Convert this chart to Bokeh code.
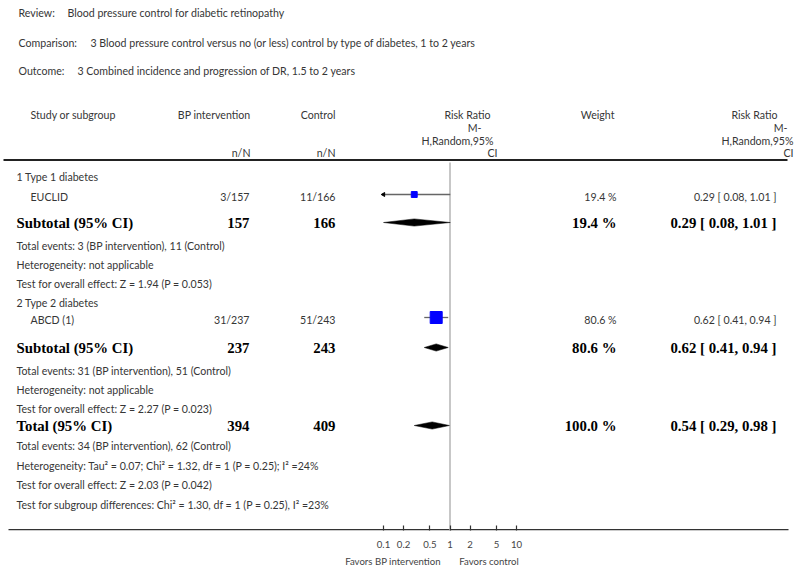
import math
from bokeh.plotting import figure
from bokeh.models import Range1d, LogScale, LogAxis, FixedTicker, ColumnDataSource
from bokeh.core.properties import value
from bokeh.embed import file_html
from bokeh.resources import INLINE

# ---------------- data ----------------
review = "Blood pressure control for diabetic retinopathy"
comparison = "3 Blood pressure control versus no (or less) control by type of diabetes, 1 to 2 years"
outcome = "3 Combined incidence and progression of DR, 1.5 to 2 years"

group_names = ["1 Type 1 diabetes", "2 Type 2 diabetes"]
study_names = ["EUCLID", "ABCD (1)"]
bp_events = [3, 31]
bp_totals = [157, 237]
ctl_events = [11, 51]
ctl_totals = [166, 243]
study_weights = [19.4, 80.6]
study_rr = [0.29, 0.62]
study_lo = [0.08, 0.41]
study_hi = [1.01, 0.94]

sub_weights = [19.4, 80.6]
sub_rr = [0.29, 0.62]
sub_lo = [0.08, 0.41]
sub_hi = [1.01, 0.94]
sub_het = ["Heterogeneity: not applicable", "Heterogeneity: not applicable"]
sub_z = ["1.94", "2.27"]
sub_p = ["0.053", "0.023"]

total_bp_events = 34
total_ctl_events = 62
total_bp = 394
total_ctl = 409
total_weight = 100.0
total_rr = 0.54
total_lo = 0.29
total_hi = 0.98
total_het = "Heterogeneity: Tau\u00b2 = 0.07; Chi\u00b2 = 1.32, df = 1 (P = 0.25); I\u00b2 =24%"
total_z = "2.03"
total_p = "0.042"
subgroup_diff = "Test for subgroup differences: Chi\u00b2 = 1.30, df = 1 (P = 0.25), I\u00b2 =23%"

tick_values = [0.1, 0.2, 0.5, 1, 2, 5, 10]
tick_labels = ["0.1", "0.2", "0.5", "1", "2", "5", "10"]
favors_left = "Favors BP intervention"
favors_right = "Favors control"

# ---------------- layout ----------------
SANS = "Lato"
SERIF = "Liberation Serif"
TXT = "#363636"
FS = "10.6px"
BFS = "14.8px"
TICK_FS = "9.6px"

W, H = 798, 574
Y_AXIS = 530             # frame bottom / axis line (page pixels)
ONE_X, DECADE = 449.5, 66.5
CLIP_LO, CLIP_HI = tick_values[0], tick_values[-1]


def rr_at(px):
    # risk-ratio value that sits at a given horizontal page position (layout helper)
    return 10 ** ((px - ONE_X) / DECADE)


p = figure(width=W, height=H, output_backend="svg", toolbar_location=None,
           x_axis_type=None, y_axis_type=None,
           x_range=Range1d(0, W), y_range=Range1d(Y_AXIS, 0),
           min_border_left=0, min_border_right=0, min_border_top=0,
           min_border_bottom=H - Y_AXIS, outline_line_color=None,
           background_fill_color="white", border_fill_color="white")
p.extra_x_ranges = {"rr": Range1d(rr_at(0), rr_at(W))}
p.extra_x_scales = {"rr": LogScale()}

plain = dict(x=[], y=[], text=[], align=[])
bold = dict(x=[], y=[], text=[], align=[])


def put(d, x, y, t, a="left"):
    d["x"].append(x)
    d["y"].append(y)
    d["text"].append(t)
    d["align"].append(a)


# title block
put(plain, 18, 12, "Review:")
put(plain, 67, 12, review)
put(plain, 18, 42, "Comparison:")
put(plain, 90, 42, comparison)
put(plain, 18, 70, "Outcome:")
put(plain, 77, 70, outcome)

# column headers
put(plain, 30, 114, "Study or subgroup")
put(plain, 250, 114, "BP intervention", "right")
put(plain, 335, 114, "Control", "right")
put(plain, 250, 152, "n/N", "right")
put(plain, 335, 152, "n/N", "right")
put(plain, 490, 114, "Risk Ratio", "right")
put(plain, 481, 127, "M-", "right")
put(plain, 493, 140, "H,Random,95%", "right")
put(plain, 497, 152, "CI", "right")
put(plain, 614, 114, "Weight", "right")
put(plain, 777, 114, "Risk Ratio", "right")
put(plain, 787, 127, "M-", "right")
put(plain, 793, 140, "H,Random,95%", "right")
put(plain, 793, 152, "CI", "right")

C_NAME, C_STUDY, C_BP, C_CTL, C_W, C_RR = 16, 30, 249, 335, 616, 776


def fmt_ci(r, lo, hi):
    return f"{r:.2f} [ {lo:.2f}, {hi:.2f} ]"


group_y = [176, 302]
study_y = [196, 319]
sub_y = [222, 347]
total_y = 425

for i in range(2):
    put(plain, C_NAME, group_y[i], group_names[i])
    sy = study_y[i]
    put(plain, C_STUDY, sy, study_names[i])
    put(plain, C_BP, sy, f"{bp_events[i]}/{bp_totals[i]}", "right")
    put(plain, C_CTL, sy, f"{ctl_events[i]}/{ctl_totals[i]}", "right")
    put(plain, C_W, sy, f"{study_weights[i]:.1f} %", "right")
    put(plain, C_RR, sy, fmt_ci(study_rr[i], study_lo[i], study_hi[i]), "right")
    by = sub_y[i]
    put(bold, C_NAME, by, "Subtotal (95% CI)")
    put(bold, C_BP, by, f"{bp_totals[i]}", "right")
    put(bold, C_CTL, by, f"{ctl_totals[i]}", "right")
    put(bold, C_W, by, f"{sub_weights[i]:.1f} %", "right")
    put(bold, C_RR, by, fmt_ci(sub_rr[i], sub_lo[i], sub_hi[i]), "right")
    put(plain, C_NAME, by + 23, f"Total events: {bp_events[i]} (BP intervention), {ctl_events[i]} (Control)")
    put(plain, C_NAME, by + 42, sub_het[i])
    put(plain, C_NAME, by + 61, f"Test for overall effect: Z = {sub_z[i]} (P = {sub_p[i]})")

put(bold, C_NAME, total_y, "Total (95% CI)")
put(bold, C_BP, total_y, f"{total_bp}", "right")
put(bold, C_CTL, total_y, f"{total_ctl}", "right")
put(bold, C_W, total_y, f"{total_weight:.1f} %", "right")
put(bold, C_RR, total_y, fmt_ci(total_rr, total_lo, total_hi), "right")
put(plain, C_NAME, 445, f"Total events: {total_bp_events} (BP intervention), {total_ctl_events} (Control)")
put(plain, C_NAME, 465, total_het)
put(plain, C_NAME, 484, f"Test for overall effect: Z = {total_z} (P = {total_p})")
put(plain, C_NAME, 504, subgroup_diff)

p.text("x", "y", "text", source=ColumnDataSource(plain), text_align="align",
       text_baseline="middle", text_font=value(SANS), text_font_size=FS, text_color=TXT)
p.text("x", "y", "text", source=ColumnDataSource(bold), text_align="align",
       text_baseline="middle", text_font=value(SERIF), text_font_size=BFS,
       text_font_style="bold", text_color="black")

# header rule and bottom rule
p.segment(x0=[3], y0=[159.5], x1=[787], y1=[159.5], line_color="#222222", line_width=2)
p.segment(x0=[8], y0=[Y_AXIS - 0.8], x1=[788], y1=[Y_AXIS - 0.8], line_color="#333333", line_width=1.6)

# line of no effect
p.segment(x0=[1], y0=[162], x1=[1], y1=[Y_AXIS], x_range_name="rr",
          line_color="#b5b5b5", line_width=1.5)

# study CIs, arrows, squares
ci_lo = [max(v, CLIP_LO) for v in study_lo]
ci_hi = [min(v, CLIP_HI) for v in study_hi]
mark_y = [y - 2 for y in study_y]
p.segment(x0=ci_lo, y0=mark_y, x1=ci_hi, y1=mark_y, x_range_name="rr",
          line_color="#666666", line_width=1.3)
arr_x = [CLIP_LO for v in study_lo if v < CLIP_LO]
arr_y = [mark_y[i] for i, v in enumerate(study_lo) if v < CLIP_LO]
if arr_x:
    p.scatter(arr_x, arr_y, marker="triangle", angle=math.pi / 2, size=4,
              color="black", x_range_name="rr")
sq_size = [12 * math.sqrt(w / max(study_weights)) for w in study_weights]
p.scatter(study_rr, mark_y, marker="square", size=sq_size, fill_color="#0000ff",
          line_color="#0000ff", x_range_name="rr")

# diamonds
d_rr = sub_rr + [total_rr]
d_lo = [max(v, CLIP_LO) for v in sub_lo + [total_lo]]
d_hi = [min(v, CLIP_HI) for v in sub_hi + [total_hi]]
d_y = sub_y + [total_y]
HALF = 3.6
p.patches(xs=[[lo, r, hi, r] for lo, r, hi in zip(d_lo, d_rr, d_hi)],
          ys=[[y, y - HALF, y, y + HALF] for y in d_y],
          fill_color="black", line_color="black", line_width=0.5, x_range_name="rr")

# risk-ratio axis
ax = LogAxis(x_range_name="rr", ticker=FixedTicker(ticks=tick_values, minor_ticks=[]))
ax.major_label_overrides = {v: l for v, l in zip(tick_values, tick_labels)}
ax.major_tick_in = 5
ax.major_tick_out = 0
ax.minor_tick_in = 0
ax.minor_tick_out = 0
ax.axis_line_color = None
ax.major_tick_line_color = "#333333"
ax.major_tick_line_width = 1.2
ax.major_label_text_font = SANS
ax.major_label_text_font_size = TICK_FS
ax.major_label_text_color = "#444444"
ax.major_label_standoff = 10
p.add_layout(ax, "below")

# "Favors" captions as a second, line-less axis below the first
fav_ticks = [rr_at(392.5), rr_at(488.5)]
ax2 = LogAxis(x_range_name="rr", ticker=FixedTicker(ticks=fav_ticks, minor_ticks=[]))
ax2.major_label_overrides = {fav_ticks[0]: favors_left, fav_ticks[1]: favors_right}
ax2.axis_line_color = None
ax2.major_tick_line_color = None
ax2.major_tick_in = 0
ax2.major_tick_out = 0
ax2.minor_tick_in = 0
ax2.minor_tick_out = 0
ax2.major_label_text_font = SANS
ax2.major_label_text_font_size = TICK_FS
ax2.major_label_text_color = "#444444"
ax2.major_label_standoff = 5
p.add_layout(ax2, "below")

open("out.html", "w").write(file_html(p, INLINE))
